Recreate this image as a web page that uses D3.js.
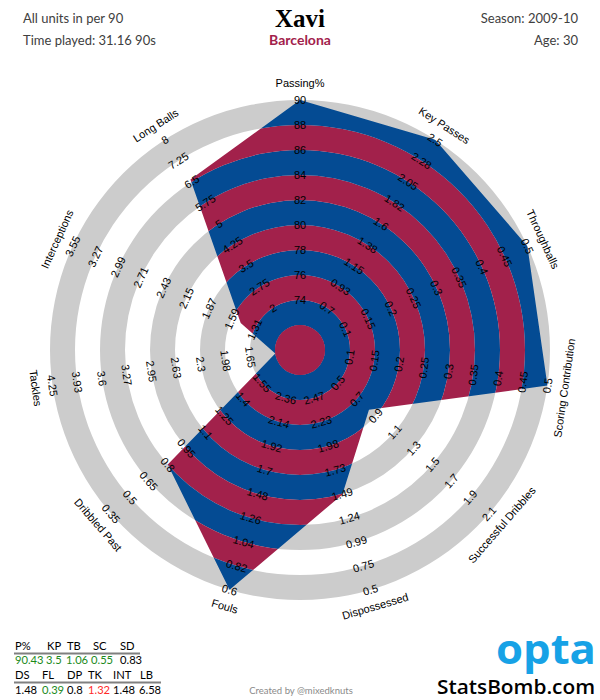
<!DOCTYPE html>
<html><head><meta charset="utf-8">
<script src="https://cdn.jsdelivr.net/npm/d3@7"></script>
<style>body{margin:0;background:#fff} svg{display:block}</style>
</head><body>
<script>
// ---------- DATA ----------
const categories = ["Passing%","Key Passes","Throughballs","Scoring Contribution","Successful Dribbles","Dispossessed","Fouls","Dribbled Past","Tackles","Interceptions","Long Balls"];
const values = [90.43, 3.5, 1.06, 0.55, 0.83, 1.48, 0.39, 0.8, 1.32, 1.48, 6.58];
// tick labels per axis, from inner ring to outer ring
const tickLabels = [
  ["74","76","78","80","82","84","86","88","90"],
  ["0.7","0.93","1.15","1.38","1.6","1.82","2.05","2.28","2.5"],
  ["0.1","0.15","0.2","0.25","0.3","0.35","0.4","0.45","0.5"],
  ["0.1","0.15","0.2","0.25","0.3","0.35","0.4","0.45","0.5"],
  ["0.5","0.7","0.9","1.1","1.3","1.5","1.7","1.9","2.1"],
  ["2.47","2.23","1.98","1.73","1.49","1.24","0.99","0.75","0.5"],
  ["2.36","2.14","1.92","1.7","1.48","1.26","1.04","0.82","0.6"],
  ["1.55","1.4","1.25","1.1","0.95","0.8","0.65","0.5","0.35"],
  ["1.65","1.98","2.3","2.63","2.95","3.27","3.6","3.93","4.25"],
  ["1.31","1.59","1.87","2.15","2.43","2.71","2.99","3.27","3.55"],
  ["2","2.75","3.5","4.25","5","5.75","6.5","7.25","8"]
];
const tableHead1 = ["P%","KP","TB","SC","SD"];
const tableVal1  = ["90.43","3.5","1.06","0.55","0.83"];
const tableStat1 = ["good","good","good","good","avg"];
const tableHead2 = ["DS","FL","DP","TK","INT","LB"];
const tableVal2  = ["1.48","0.39","0.8","1.32","1.48","6.58"];
const tableStat2 = ["avg","good","avg","bad","avg","avg"];
const player = "Xavi", team = "Barcelona";
const infoLeft = ["All units in per 90","Time played: 31.16 90s"];
const infoRight = ["Season: 2009-10","Age: 30"];

// ---------- LAYOUT ----------
const W = 600, H = 700, cx = 300, cy = 350;
const r0 = 25, r1 = 250, nBands = 10;
const CRIMSON = "#a2214b", BLUE = "#044b93", GRAY = "#cccccc";
const n = categories.length;
const angle = d3.scaleLinear().domain([0, n]).range([0, 2 * Math.PI]);
const ringScale = d3.scaleLinear().domain([0, nBands]).range([0, r1]);

const svg = d3.select("body").append("svg").attr("width", W).attr("height", H)
  .style("font-family", "'Liberation Sans', Arial, sans-serif");
const g = svg.append("g").attr("transform", `translate(${cx},${cy})`);

// radial scales per axis derived from tick labels
const rScales = tickLabels.map(t => {
  const a = +t[0], b = +t[t.length - 1];
  const step = (b - a) / (t.length - 1);
  return d3.scaleLinear().domain([a - step, b]).range([r0, r1]).clamp(true);
});

// background gray rings
const arc = d3.arc().startAngle(0).endAngle(2 * Math.PI);
const bands = d3.range(nBands);
g.selectAll("path.bg").data(bands.filter(j => j % 2 === 1)).join("path")
  .attr("class", "bg")
  .attr("d", j => arc({innerRadius: ringScale(j), outerRadius: ringScale(j + 1)}))
  .attr("fill", GRAY);

// polygon clip
const radial = d3.lineRadial().curve(d3.curveLinearClosed)
  .angle((d, i) => angle(i)).radius((d, i) => rScales[i](d));
svg.append("defs").append("clipPath").attr("id", "poly")
  .append("path").attr("d", radial(values));
const cg = g.append("g").attr("clip-path", "url(#poly)");
cg.selectAll("path").data(bands).join("path")
  .attr("d", j => arc({innerRadius: ringScale(j), outerRadius: ringScale(j + 1)}))
  .attr("fill", j => j % 2 === 0 ? CRIMSON : BLUE);
// center disc
g.append("circle").attr("r", ringScale(1)).attr("fill", CRIMSON);

// text placement helper
function place(sel, ai, r) {
  const a = angle(ai);
  const deg = a * 180 / Math.PI;
  const rot = (deg > 90 && deg < 270) ? deg - 180 : deg;
  sel.attr("transform", `translate(${r * Math.sin(a)},${-r * Math.cos(a)}) rotate(${rot})`);
}

// tick labels
tickLabels.forEach((t, i) => {
  t.forEach((lab, k) => {
    const txt = g.append("text").text(lab)
      .attr("text-anchor", "middle").attr("dominant-baseline", "central")
      .attr("font-size", 11).attr("fill", "#000");
    place(txt, i, ringScale(k + 2));
  });
});

// axis names
categories.forEach((c, i) => {
  const txt = g.append("text").text(c)
    .attr("text-anchor", "middle").attr("dominant-baseline", "central")
    .attr("font-size", 11).attr("fill", "#000");
  place(txt, i, 267);
});

// header
const hf = "Lato, 'Open Sans', sans-serif";
svg.append("text").text(player).attr("x", 300).attr("y", 27).attr("text-anchor", "middle")
  .attr("font-family", "'Liberation Serif', 'DejaVu Serif', serif").attr("font-weight", "bold")
  .attr("font-size", 25).attr("fill", "#000");
svg.append("text").text(team).attr("x", 300).attr("y", 45).attr("text-anchor", "middle")
  .attr("font-family", hf).attr("font-weight", "bold").attr("font-size", 14).attr("fill", CRIMSON);
infoLeft.forEach((t, i) => svg.append("text").text(t).attr("x", 23).attr("y", 23 + i * 22)
  .attr("font-family", hf).attr("font-size", 13).attr("fill", "#404040"));
infoRight.forEach((t, i) => svg.append("text").text(t).attr("x", 578).attr("y", 23 + i * 22)
  .attr("text-anchor", "end").attr("font-family", hf).attr("font-size", 13).attr("fill", "#404040"));

// table
const statColor = {good: "#1a8a1a", bad: "#ff2a2a", avg: "#000"};
const cols1 = [15, 47, 67, 93, 120];
const cols2 = [15, 42, 67, 88, 113, 140];
const vcols1 = [15, 46, 66, 91, 120];
const vcols2 = [15, 42, 67, 88, 113, 139];
function row(labels, xs, y, colorArr) {
  labels.forEach((t, i) => svg.append("text").text(t).attr("x", xs[i]).attr("y", y)
    .attr("font-family", hf).attr("font-size", 11.2)
    .attr("fill", colorArr ? statColor[colorArr[i]] : "#000"));
}
row(tableHead1, cols1, 650);
svg.append("line").attr("x1", 14).attr("x2", 140).attr("y1", 653.5).attr("y2", 653.5).attr("stroke", "#808080").attr("stroke-width", 2);
row(tableVal1, vcols1, 664, tableStat1);
row(tableHead2, cols2, 679);
svg.append("line").attr("x1", 14).attr("x2", 161).attr("y1", 682.5).attr("y2", 682.5).attr("stroke", "#808080").attr("stroke-width", 2);
row(tableVal2, vcols2, 694, tableStat2);

svg.append("text").text("Created by @mixedknuts").attr("x", 301).attr("y", 694).attr("text-anchor", "middle")
  .attr("font-family", hf).attr("font-size", 9.5).attr("fill", "#8a8a8a");

// logos
svg.append("text").text("opta").attr("x", 496).attr("y", 664)
  .attr("font-family", "'Open Sans', sans-serif").attr("font-weight", 700).attr("font-size", 41)
  .attr("textLength", 100).attr("lengthAdjust", "spacingAndGlyphs").attr("fill", "#17a2e6");
svg.append("text").text("StatsBomb.com").attr("x", 437).attr("y", 694)
  .attr("font-family", "'Open Sans', sans-serif").attr("font-weight", 600).attr("font-size", 20)
  .attr("textLength", 158).attr("lengthAdjust", "spacingAndGlyphs").attr("fill", "#000");
</script>
</body></html>
